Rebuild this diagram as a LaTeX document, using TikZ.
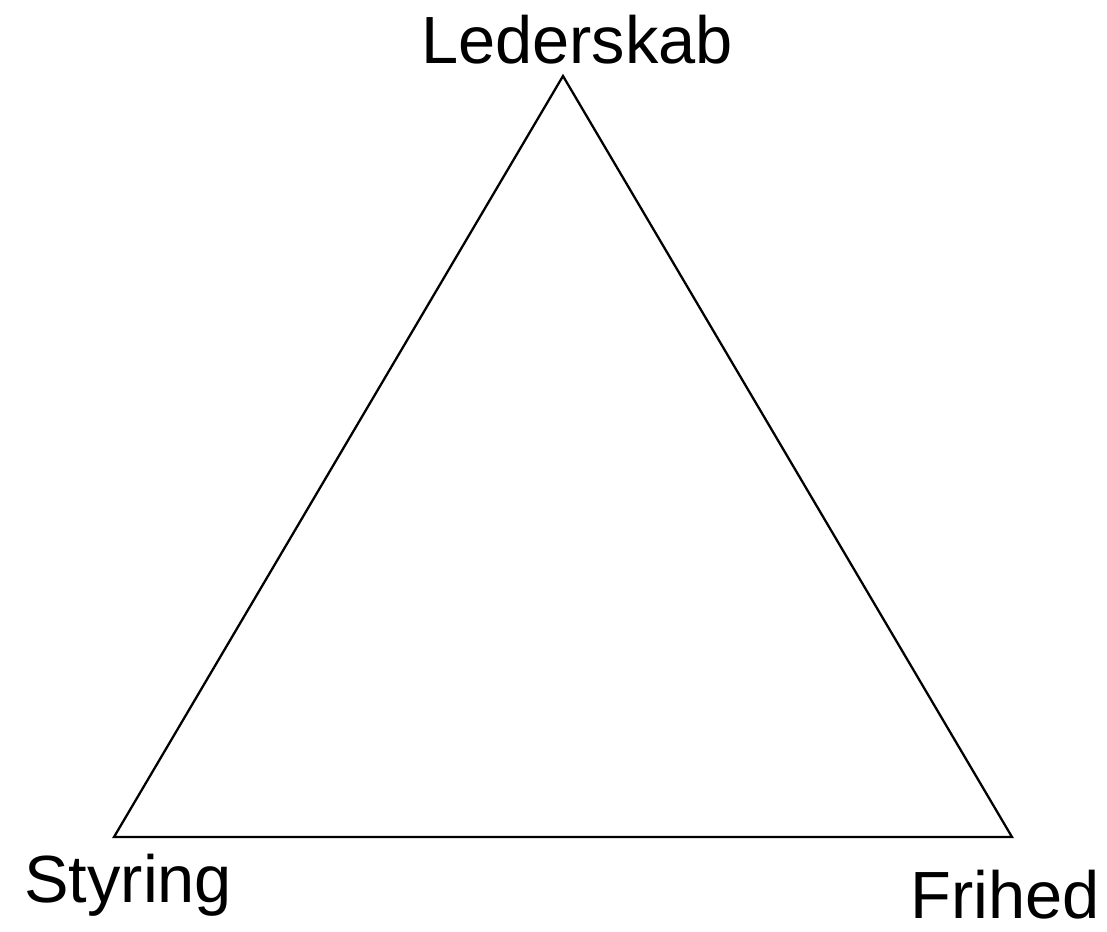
\documentclass[tikz,border=0pt]{standalone}
\usepackage{fontspec}
\setmainfont{Liberation Sans}
\tikzset{
  corner/.style={inner sep=0pt,font=\fontsize{38}{45}\selectfont},
}
\begin{document}
\begin{tikzpicture}[x=0.02cm,y=-0.02cm]
        \useasboundingbox (0,0) rectangle (1107,931);
        \coordinate (L) at (563,76);
        \coordinate (S) at (114,837);
        \coordinate (F) at (1012,837);

        \draw[line width=1.3pt,line join=miter] (S) -- (F) -- (L) -- cycle;

        \node[corner,anchor=base] (lederskab) at (577,63) {Lederskab};
        \node[corner,anchor=base west] (styring) at (24,902) {Styring};
        \node[corner,anchor=base west] (frihed) at (910,918) {Frihed};
    \end{tikzpicture}
\end{document}
